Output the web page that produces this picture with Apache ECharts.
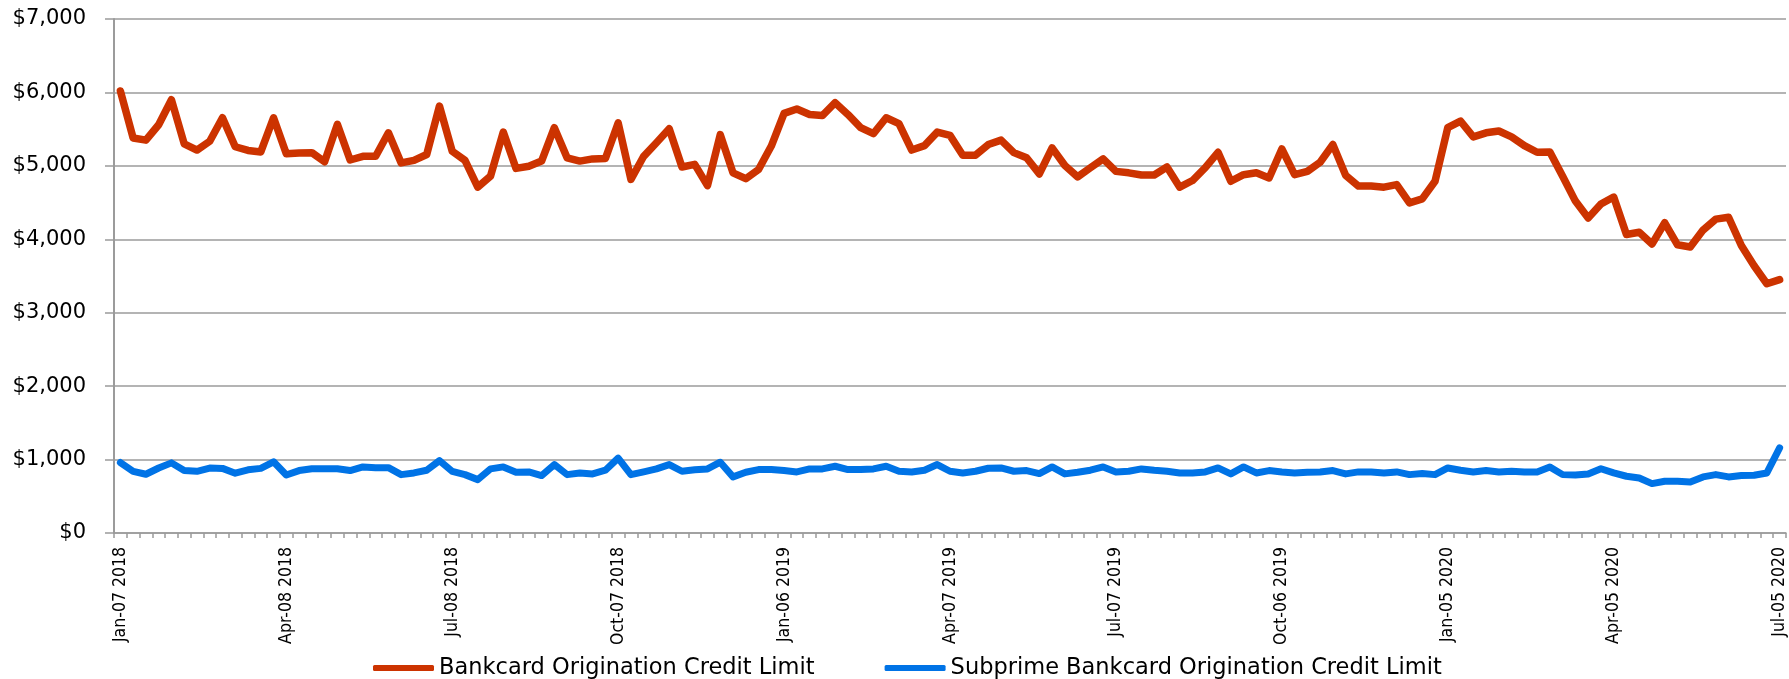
<!DOCTYPE html>
<html>
<head>
<meta charset="utf-8">
<title>Bankcard Origination Credit Limit</title>
<script src="https://cdn.jsdelivr.net/npm/echarts/dist/echarts.min.js"></script>
<style>
  html, body { margin: 0; padding: 0; background: #ffffff; }
  #chart { width: 1789px; height: 679px; }
</style>
</head>
<body>
<div id="chart"></div>
<script>
// Weekly observations, first week of Jan 2018 through first week of Jul 2020
const MONTHS = ['Jan','Feb','Mar','Apr','May','Jun','Jul','Aug','Sep','Oct','Nov','Dec'];
const FIRST_WEEK = Date.UTC(2018, 0, 7);
const WEEK_COUNT = 131;

const weeks = [];
for (let i = 0; i < WEEK_COUNT; i++) {
  const d = new Date(FIRST_WEEK + i * 7 * 86400000);
  const day = String(d.getUTCDate()).padStart(2, '0');
  weeks.push(MONTHS[d.getUTCMonth()] + '-' + day + ' ' + d.getUTCFullYear());
}

// Dates labelled on the x axis (every 13th week)
const tickLabels = [
  'Jan-07 2018', 'Apr-08 2018', 'Jul-08 2018', 'Oct-07 2018',
  'Jan-06 2019', 'Apr-07 2019', 'Jul-07 2019', 'Oct-06 2019',
  'Jan-05 2020', 'Apr-05 2020', 'Jul-05 2020'
];

// Average credit limit at origination, US dollars
const bankcardLimit = [
  6020, 5380, 5350, 5560, 5900, 5300, 5215, 5335, 5655, 5260,
  5210, 5190, 5655, 5165, 5175, 5180, 5055, 5565, 5080, 5130,
  5130, 5450, 5040, 5075, 5155, 5815, 5200, 5075, 4710, 4860,
  5460, 4965, 4995, 5065, 5520, 5110, 5065, 5095, 5100, 5585,
  4815, 5130, 5315, 5505, 4985, 5020, 4730, 5425, 4905, 4825,
  4950, 5270, 5715, 5775, 5700, 5685, 5860, 5700, 5520, 5440,
  5655, 5575, 5215, 5275, 5460, 5415, 5145, 5145, 5290, 5350,
  5180, 5110, 4890, 5245, 5005, 4850, 4975, 5095, 4925, 4905,
  4875, 4875, 4985, 4710, 4800, 4975, 5185, 4790, 4880, 4905,
  4835, 5230, 4880, 4925, 5050, 5290, 4870, 4725, 4725, 4710,
  4745, 4495, 4550, 4790, 5520, 5610, 5395, 5450, 5475, 5395,
  5275, 5185, 5190, 4860, 4520, 4290, 4480, 4575, 4065, 4095,
  3935, 4225, 3925, 3895, 4125, 4275, 4300, 3915, 3640, 3395,
  3450
];

const subprimeLimit = [
  960, 840, 800, 885, 955, 850, 840, 885, 880, 815,
  860, 880, 970, 790, 850, 875, 875, 875, 850, 900,
  890, 890, 795, 818, 855, 985, 840, 795, 727, 873,
  900, 827, 832, 782, 932, 795, 818, 805, 855, 1020,
  795, 832, 873, 932, 841, 860, 873, 964, 764, 827,
  864, 864, 850, 832, 873, 873, 909, 864, 864, 873,
  909, 841, 832, 855, 932, 841, 818, 841, 882, 886,
  841, 850, 809, 900, 805, 827, 855, 900, 832, 841,
  873, 855, 841, 818, 818, 832, 886, 805, 900, 818,
  850, 832, 818, 827, 832, 850, 805, 832, 832, 818,
  832, 795, 809, 795, 886, 855, 832, 850, 832, 841,
  832, 832, 900, 795, 790, 805, 875, 818, 773, 750,
  673, 705, 705, 695, 764, 795, 764, 782, 786, 818,
  1159
];

const SERIES_NAMES = [
  'Bankcard Origination Credit Limit',
  'Subprime Bankcard Origination Credit Limit'
];

const chart = echarts.init(document.getElementById('chart'), null, { renderer: 'canvas' });

const gray = '#9b9b9b';

chart.setOption({
  animation: false,
  backgroundColor: '#ffffff',
  color: ['#cc3300', '#0073e6'],
  grid: { left: 114, right: 3, top: 19, bottom: 146, containLabel: false },
  legend: {
    data: SERIES_NAMES,
    left: 373,
    top: 656,
    padding: 0,
    itemWidth: 61,
    itemHeight: 6,
    itemGap: 70,
    icon: 'roundRect',
    textStyle: { fontFamily: 'DejaVu Sans', fontSize: 22.5, color: '#000', lineHeight: 24 }
  },
  xAxis: {
    type: 'category',
    data: weeks,
    boundaryGap: true,
    axisLine: { show: true, lineStyle: { color: gray, width: 1.5 } },
    axisTick: { show: true, interval: 0, length: 5, lineStyle: { color: gray, width: 1.5 } },
    axisLabel: {
      interval: 12,
      rotate: 90,
      margin: 14,
      fontFamily: 'Liberation Sans Narrow, DejaVu Sans Condensed, sans-serif',
      fontSize: 17.5,
      color: '#000',
      formatter: function (v) { return tickLabels.indexOf(v) >= 0 ? v : ''; }
    },
    splitLine: { show: false }
  },
  yAxis: {
    type: 'value',
    min: 0,
    max: 7000,
    interval: 1000,
    axisLine: { show: true, lineStyle: { color: gray, width: 2 } },
    axisTick: { show: true, length: 9, lineStyle: { color: gray, width: 1.5 } },
    axisLabel: {
      margin: 28,
      fontFamily: 'DejaVu Sans',
      fontSize: 21,
      color: '#000',
      formatter: function (v) { return '$' + v.toLocaleString('en-US'); }
    },
    splitLine: { show: true, lineStyle: { color: gray, width: 1.5 } }
  },
  series: [
    {
      name: SERIES_NAMES[0],
      type: 'line',
      data: bankcardLimit,
      showSymbol: false,
      symbol: 'none',
      lineStyle: { width: 7.5, cap: 'round', join: 'round' }
    },
    {
      name: SERIES_NAMES[1],
      type: 'line',
      data: subprimeLimit,
      showSymbol: false,
      symbol: 'none',
      lineStyle: { width: 7, cap: 'round', join: 'round' }
    }
  ]
});
</script>
</body>
</html>
